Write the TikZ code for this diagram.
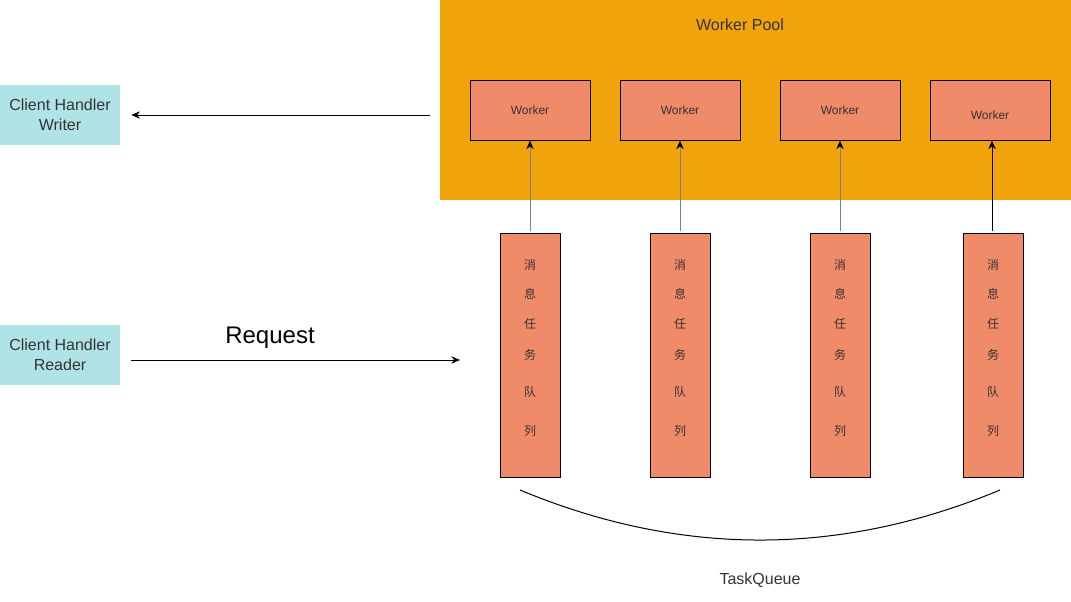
\documentclass[tikz,border=0pt]{standalone}
\usepackage{fontspec}
\setmainfont{Liberation Sans}
\newfontfamily\cjk{Noto Sans CJK SC}
\usetikzlibrary{arrows.meta}
\definecolor{poolc}{HTML}{F0A30A}
\definecolor{workc}{HTML}{F08B6A}
\definecolor{clientc}{HTML}{B0E3E6}
\definecolor{txt}{HTML}{333333}
\tikzset{
  pool/.style={fill=poolc, draw=none, inner sep=0pt, anchor=north west},
  workerbox/.style={fill=workc, draw=black, line width=0.75pt, minimum width=90pt, minimum height=45pt, inner sep=0pt, text=txt, font=\fontsize{9pt}{11pt}\selectfont},
  queuebox/.style={fill=workc, draw=black, line width=0.75pt, minimum width=45pt, minimum height=183pt, inner sep=0pt},
  qchar/.style={inner sep=0pt, text=txt, font=\cjk\fontsize{9pt}{11pt}\selectfont},
  clientbox/.style={fill=clientc, draw=none, minimum width=90pt, minimum height=45pt, inner sep=0pt, align=center, text=txt, font=\fontsize{12pt}{15pt}\selectfont},
  conn/.style={line width=0.75pt, -{Stealth[length=6.5pt,width=5.5pt,color=black]}},
  lbl/.style={inner sep=0pt, text=txt, font=\fontsize{12pt}{14pt}\selectfont}
}
\begin{document}
\begin{tikzpicture}[x=0.75pt, y=-0.75pt]
\useasboundingbox (0,0) rectangle (1071,601);
% worker pool
\node[pool, minimum width=473.25pt, minimum height=150pt] (pool) at (440,0) {};
\node[lbl] (pooltitle) at (740,25) {Worker Pool};
% workers
\node[workerbox] (w1) at (530,110) {Worker};
\node[workerbox] (w2) at (680,110) {Worker};
\node[workerbox] (w3) at (840,110) {Worker};
\node[workerbox, text height=6.5pt, text depth=0pt] (w4) at (990,110) {\raisebox{-4pt}{Worker}};
% queues
\node[queuebox] (q1) at (530,355) {};
\node[queuebox] (q2) at (680,355) {};
\node[queuebox] (q3) at (840,355) {};
\node[queuebox] (q4) at (993,355) {};
\foreach \q/\x in {1/530,2/680,3/840,4/993}{
  \node[qchar] (q\q c1) at (\x,265) {消};
  \node[qchar] (q\q c2) at (\x,294) {息};
  \node[qchar] (q\q c3) at (\x,324) {任};
  \node[qchar] (q\q c4) at (\x,355) {务};
  \node[qchar] (q\q c5) at (\x,392) {队};
  \node[qchar] (q\q c6) at (\x,431) {列};
}
% queue -> worker arrows
\draw[conn, draw=black!50] ([yshift=1.5pt]q1.north) -- (w1.south);
\draw[conn, draw=black!50] ([yshift=1.5pt]q2.north) -- (w2.south);
\draw[conn, draw=black!50] ([yshift=1.5pt]q3.north) -- (w3.south);
\draw[conn] ([yshift=1.5pt,xshift=-0.75pt]q4.north) -- ([xshift=-0.75pt]q4.north |- w4.south);
% clients
\node[clientbox] (writer) at (60,115) {Client Handler\\Writer};
\node[clientbox] (reader) at (60,355) {Client Handler\\Reader};
\coordinate (wfrom) at (430,115);
\coordinate (rto) at (460,360);
\draw[conn] (wfrom) -- ([xshift=8.25pt]writer.east);
\draw[conn] ([xshift=8.25pt]reader.east |- rto) -- (rto);
\node[inner sep=0pt, text=black, font=\fontsize{18pt}{21pt}\selectfont] (req) at (270,338) {Request};
% task queue curve
\coordinate (cs) at (520,490);
\coordinate (ce) at (1000,490);
\draw[line width=0.75pt] (cs) .. controls (680,556.7) and (840,556.7) .. (ce);
\node[lbl] (tq) at (760,580) {TaskQueue};
\end{tikzpicture}
\end{document}
